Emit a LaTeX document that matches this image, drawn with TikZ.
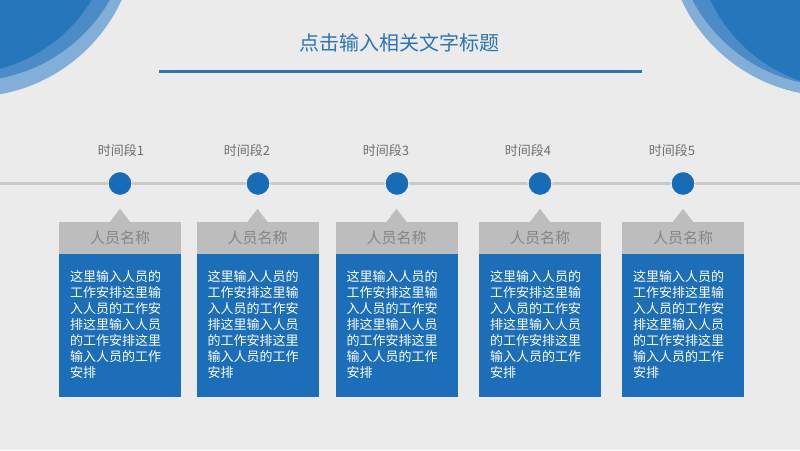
\documentclass[tikz,border=0pt]{standalone}
\usepackage{fontspec}
\setmainfont{Noto Sans CJK SC}
\usetikzlibrary{positioning}

\definecolor{bg}{HTML}{EBEBEB}
\definecolor{mainblue}{HTML}{1B6EB7}
\definecolor{dotblue}{HTML}{176CB8}
\definecolor{titleblue}{HTML}{2B74B6}
\definecolor{darkblue}{HTML}{2576BA}
\definecolor{midblue}{HTML}{4B8BC7}
\definecolor{lightblue}{HTML}{82AED8}
\definecolor{labelgrey}{HTML}{BDBDBD}
\definecolor{namegrey}{HTML}{858585}
\definecolor{periodgrey}{HTML}{6E6E6E}
\definecolor{linegrey}{HTML}{CACACA}

\newcommand{\workText}{这里输入人员的\\工作安排这里输\\入人员的工作安\\排这里输入人员\\的工作安排这里\\输入人员的工作\\安排}

\tikzset{
    period/.style={text=periodgrey,font=\fontsize{13}{15}\selectfont,inner sep=0pt},
    dot/.style={shape=circle,fill=dotblue,draw=bg,line width=1.2pt,minimum size=24pt,inner sep=0pt},
    namebox/.style={shape=rectangle,fill=labelgrey,text=namegrey,minimum width=122pt,minimum height=32pt,inner sep=0pt,font=\fontsize{15}{17}\selectfont},
    workbox/.style={shape=rectangle,fill=mainblue,minimum width=122pt,minimum height=143pt,inner sep=0pt},
    worktext/.style={text=white,align=left,inner sep=0pt,font=\fontsize{13}{16}\selectfont},
    pointer/.style={fill=labelgrey}
}

\begin{document}
\begin{tikzpicture}[x=1pt,y=-1pt]
    \fill[bg] (0,0) rectangle (800,450);
    \useasboundingbox (0,0) rectangle (800,450);

    % corner circles
    \begin{scope}
        \clip (0,0) rectangle (800,450);
        \fill[lightblue] (-30,-70) circle (167pt);
        \fill[midblue] (-30,-80) circle (161pt);
        \fill[darkblue] (-40,-80) circle (154pt);
        \fill[lightblue] (832,-70) circle (166pt);
        \fill[midblue] (835,-75) circle (161pt);
        \fill[darkblue] (850,-65) circle (154pt);
    \end{scope}

    % title
    \node[text=titleblue,font=\fontsize{20}{22}\selectfont] (title) at (399,43) {点击输入相关文字标题};
    \coordinate (ulL) at (159,71.5);
    \coordinate (ulR) at (642,71.5);
    \draw[titleblue,line width=3pt] (ulL) -- (ulR);

    % timeline
    \coordinate (tlL) at (0,183.5);
    \coordinate (tlR) at (800,183.5);
    \draw[linegrey,line width=3pt] (tlL) -- (tlR);

    \node[period] (p1) at (121,151) {时间段1};
    \node[period] (p2) at (247,151) {时间段2};
    \node[period] (p3) at (386,151) {时间段3};
    \node[period] (p4) at (528,151) {时间段4};
    \node[period] (p5) at (672,151) {时间段5};

    \node[dot] (d1) at (120,183.5) {};
    \node[dot] (d2) at (258,183.5) {};
    \node[dot] (d3) at (397,183.5) {};
    \node[dot] (d4) at (540,183.5) {};
    \node[dot] (d5) at (683,183.5) {};

    \node[namebox] (n1) at (120,238) {人员名称};
    \node[namebox] (n2) at (257.5,238) {人员名称};
    \node[namebox] (n3) at (396.5,238) {人员名称};
    \node[namebox] (n4) at (540,238) {人员名称};
    \node[namebox] (n5) at (683,238) {人员名称};

    \fill[pointer] (n1.north) ++(-10,0) -- ++(10,-13) -- ++(10,13) -- cycle;
    \fill[pointer] (n2.north) ++(-10,0) -- ++(10,-13) -- ++(10,13) -- cycle;
    \fill[pointer] (n3.north) ++(-10,0) -- ++(10,-13) -- ++(10,13) -- cycle;
    \fill[pointer] (n4.north) ++(-10,0) -- ++(10,-13) -- ++(10,13) -- cycle;
    \fill[pointer] (n5.north) ++(-10,0) -- ++(10,-13) -- ++(10,13) -- cycle;

    \node[workbox,below=0pt of n1] (w1) {};
    \node[workbox,below=0pt of n2] (w2) {};
    \node[workbox,below=0pt of n3] (w3) {};
    \node[workbox,below=0pt of n4] (w4) {};
    \node[workbox,below=0pt of n5] (w5) {};

    \node[worktext,below right=16pt and 11pt of w1.north west,anchor=north west] (t1) {\workText};
    \node[worktext,below right=16pt and 11pt of w2.north west,anchor=north west] (t2) {\workText};
    \node[worktext,below right=16pt and 11pt of w3.north west,anchor=north west] (t3) {\workText};
    \node[worktext,below right=16pt and 11pt of w4.north west,anchor=north west] (t4) {\workText};
    \node[worktext,below right=16pt and 11pt of w5.north west,anchor=north west] (t5) {\workText};
\end{tikzpicture}
\end{document}
